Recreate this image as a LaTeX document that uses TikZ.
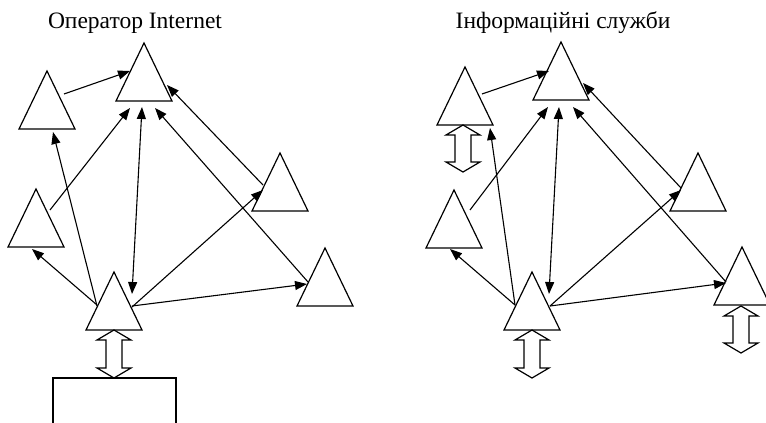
\documentclass[tikz,border=0pt]{standalone}
\usepackage{fontspec}
\setmainfont{Liberation Serif}
\usetikzlibrary{arrows.meta}
\newcommand\trinode[3]{%
  \coordinate (#1) at (#2,#3);
  \draw[tri] (#1) ++(-28,0) -- ++(28,-58) -- ++(28,58) -- cycle;}
\newcommand\dblarr[4]{% name, cx, top, bottom
  \coordinate (#1) at (#2,#3);
  \draw[tri] (#1) -- ++(17,10) -- ++(-9,0) |- ({#2+17},{#4-10}) -- ({#2},{#4})
    -- ({#2-17},{#4-10}) -| ({#2-8},{#3+10}) -- ({#2-17},{#3+10}) -- cycle;}
\tikzset{
  tri/.style={line width=1.2pt, line join=miter},
  arr/.style={line width=1.1pt, -{Triangle[length=12pt,width=9pt]}},
  barr/.style={line width=1.1pt, {Triangle[length=12pt,width=9pt]}-{Triangle[length=12pt,width=9pt]}},
  title/.style={font=\fontsize{23.5pt}{28pt}\selectfont, inner sep=0pt, anchor=base}
}
\begin{document}
\begin{tikzpicture}[x=1pt,y=-1pt]
\useasboundingbox (0,0) rectangle (766,423);
\clip (0,0) rectangle (766,423);
% titles
\node[title] (t1) at (135,28) {Оператор Internet};
\node[title] (t2) at (563,28) {Інформаційні служби};
% left diagram
\trinode{A}{144}{101}
\trinode{B}{47}{129}
\trinode{C}{280}{211}
\trinode{D}{36}{247}
\trinode{E}{114}{330}
\trinode{F}{325}{306}
\dblarr{EA1}{114}{330}{378}
\coordinate (R) at (53,378);
\draw[tri] (R) ++(0,60) -- (R) -- ++(123,0) -- ++(0,60);
\draw[arr] ([shift={(17,-35)}]B) -- ([shift={(-14,-30)}]A);
\draw[arr] ([shift={(-17,-24)}]E) -- ([shift={(6,3)}]B);
\draw[arr] ([shift={(14,-37)}]D) -- ([shift={(-14,7)}]A);
\draw[barr] ([shift={(18,-36)}]E) -- ([shift={(-2,6)}]A);
\draw[arr] ([shift={(-17,-24)}]F) -- ([shift={(11,7)}]A);
\draw[arr] ([shift={(-17,-26)}]C) -- ([shift={(23,-16)}]A);
\draw[arr] ([shift={(18,-23)}]E) -- ([shift={(-17,-21)}]C);
\draw[arr] ([shift={(18,-24)}]E) -- ([shift={(-18,-22)}]F);
\draw[arr] ([shift={(-17,-25)}]E) -- ([shift={(-4,2)}]D);
% right diagram
\trinode{A2}{561}{100}
\trinode{B2}{465}{125}
\trinode{C2}{698}{211}
\trinode{D2}{454}{248}
\trinode{E2}{532}{330}
\trinode{F2}{742}{305}
\dblarr{EB2}{463}{125}{172}
\dblarr{EE2}{532}{330}{378}
\dblarr{EF2}{741}{306}{353}
\draw[arr] ([shift={(17,-31)}]B2) -- ([shift={(-12,-29)}]A2);
\draw[arr] ([shift={(-17,-25)}]E2) -- ([shift={(25,3)}]B2);
\draw[arr] ([shift={(16,-38)}]D2) -- ([shift={(-13,7)}]A2);
\draw[barr] ([shift={(17,-36)}]E2) -- ([shift={(-2,7)}]A2);
\draw[arr] ([shift={(-16,-23)}]F2) -- ([shift={(12,7)}]A2);
\draw[arr] ([shift={(-17,-23)}]C2) -- ([shift={(22,-17)}]A2);
\draw[arr] ([shift={(18,-24)}]E2) -- ([shift={(-17,-21)}]C2);
\draw[arr] ([shift={(18,-24)}]E2) -- ([shift={(-16,-22)}]F2);
\draw[arr] ([shift={(-17,-25)}]E2) -- ([shift={(-4,1)}]D2);
\end{tikzpicture}
\end{document}
